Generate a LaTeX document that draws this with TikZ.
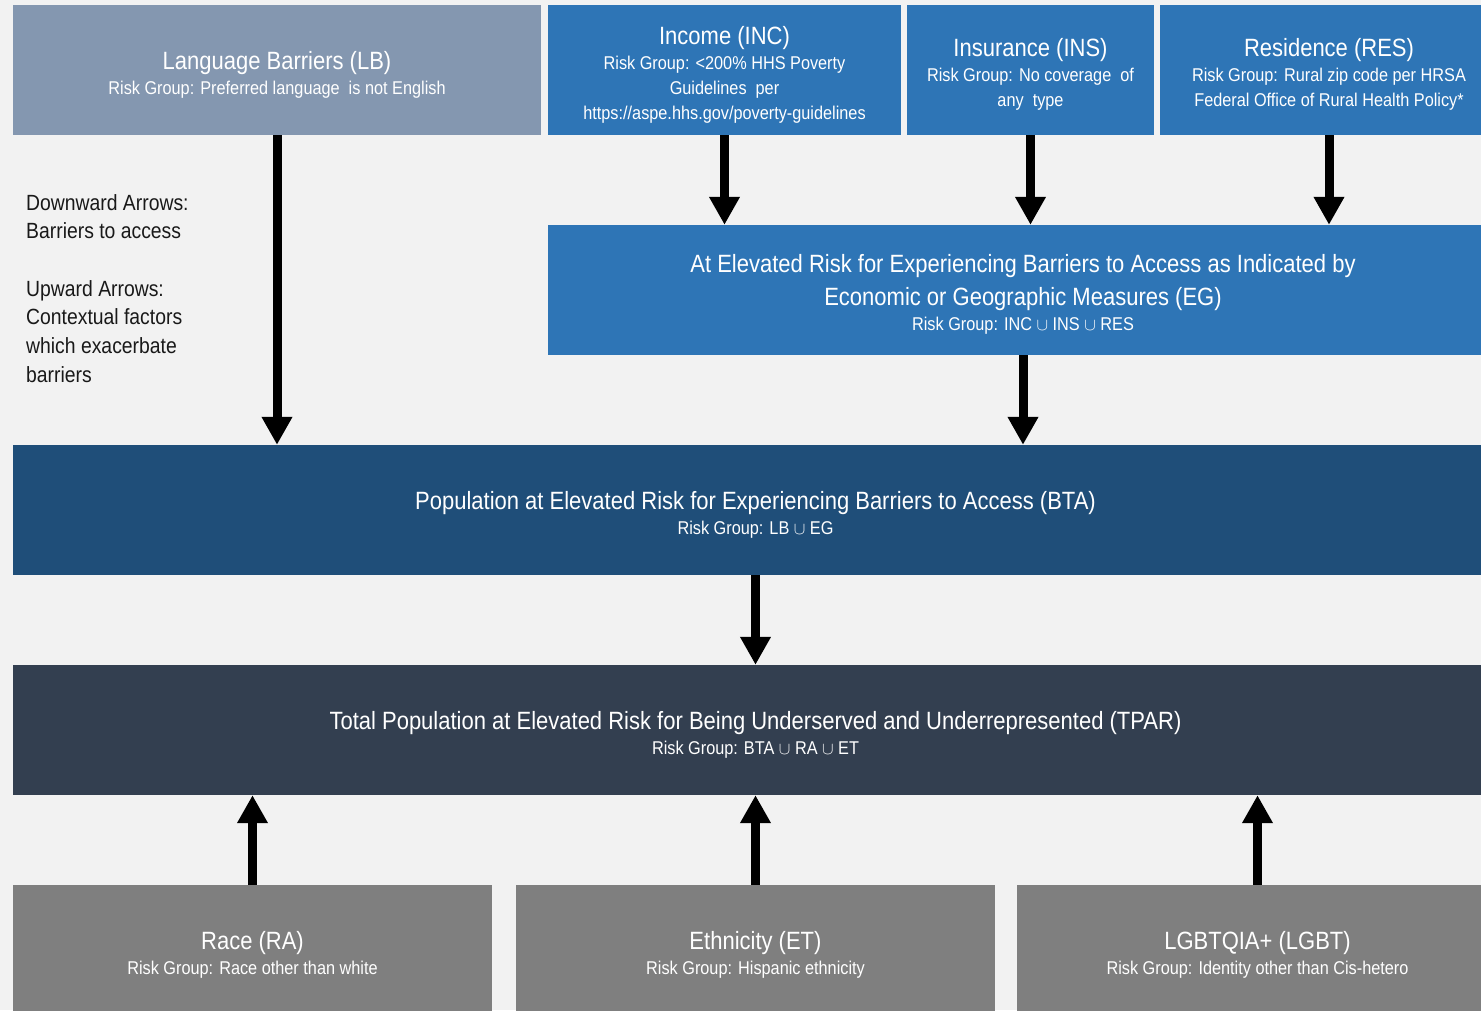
\documentclass[tikz,border=0pt]{standalone}
\usepackage{fontspec}
\setmainfont{Liberation Sans}[FakeStretch=0.88]
\usetikzlibrary{arrows.meta}
\definecolor{bgpage}{HTML}{F2F2F2}
\definecolor{lbfill}{HTML}{8497B0}
\definecolor{egfill}{HTML}{2E75B6}
\definecolor{btafill}{HTML}{1F4E79}
\definecolor{tparfill}{HTML}{333F50}
\definecolor{ctxfill}{HTML}{7F7F7F}
\newcommand{\ttlfont}{\fontsize{25}{27}\selectfont\rule{0pt}{27pt}}
\newcommand{\subfont}{\fontsize{18.5}{25}\selectfont}

\begin{document}
\begin{tikzpicture}[x=1pt, y=-1pt, >={Triangle[width=29pt,length=28pt]},
  box/.style={inner sep=0pt, align=center, text=white, font=\subfont},
  barrow/.style={->, line width=9pt}]
\clip (0,0) rectangle (1481,1010);
\fill[bgpage] (0,0) rectangle (1481,1010);
% top row
\node[box, fill=lbfill, minimum width=528pt, minimum height=130pt] (LB) at (277,70) {{\ttlfont Language Barriers (LB)}\\Risk Group: Preferred language\ \ is not English};
\node[box, fill=egfill, minimum width=353pt, minimum height=130pt] (INC) at (724.5,70) {{\ttlfont Income (INC)}\\Risk Group: <200\% HHS Poverty\\Guidelines\ \ per\\https://aspe.hhs.gov/poverty-guidelines};
\node[box, fill=egfill, minimum width=247pt, minimum height=130pt] (INS) at (1030.5,70) {{\ttlfont Insurance (INS)}\\Risk Group: No coverage\ \ of\\any\ \ type};
\node[box, fill=egfill, minimum width=338pt, minimum height=130pt] (RES) at (1329,70) {{\ttlfont Residence (RES)}\\Risk Group: Rural zip code per HRSA\\Federal Office of Rural Health Policy*};
% middle rows
\node[box, fill=egfill, minimum width=950pt, minimum height=130pt] (EG) at (1023,290) {{\ttlfont At Elevated Risk for Experiencing Barriers to Access as Indicated by}\\[8pt]{\fontsize{25}{27}\selectfont Economic or Geographic Measures (EG)}\\Risk Group: INC $\cup$ INS $\cup$ RES};
\node[box, fill=btafill, minimum width=1485pt, minimum height=130pt] (BTA) at (755.5,510) {{\ttlfont Population at Elevated Risk for Experiencing Barriers to Access (BTA)}\\Risk Group: LB $\cup$ EG};
\node[box, fill=tparfill, minimum width=1485pt, minimum height=130pt] (TPAR) at (755.5,730) {{\ttlfont Total Population at Elevated Risk for Being Underserved and Underrepresented (TPAR)}\\Risk Group: BTA $\cup$ RA $\cup$ ET};
% bottom row
\node[box, fill=ctxfill, minimum width=479pt, minimum height=130pt] (RA) at (252.5,950) {{\ttlfont Race (RA)}\\Risk Group: Race other than white};
\node[box, fill=ctxfill, minimum width=479pt, minimum height=130pt] (ET) at (755.5,950) {{\ttlfont Ethnicity (ET)}\\Risk Group: Hispanic ethnicity};
\node[box, fill=ctxfill, minimum width=481pt, minimum height=130pt] (LGBT) at (1257.5,950) {{\ttlfont LGBTQIA+ (LGBT)}\\Risk Group: Identity other than Cis-hetero};
% legend
\node[anchor=north west, align=left, inner sep=0pt, text=black!90, font=\fontsize{22}{28.7}\selectfont] (key) at (26,194) {Downward Arrows:\\Barriers to access\\[28.7pt]Upward Arrows:\\Contextual factors\\which exacerbate\\barriers};
% arrows
\draw[barrow] (LB.south) -- (LB.south |- BTA.north);
\draw[barrow] (INC.south) -- (INC.south |- EG.north);
\draw[barrow] (INS.south) -- (INS.south |- EG.north);
\draw[barrow] (RES.south) -- (RES.south |- EG.north);
\draw[barrow] (EG.south) -- (EG.south |- BTA.north);
\draw[barrow] (BTA.south) -- (TPAR.north);
\draw[barrow] (RA.north) -- (RA.north |- TPAR.south);
\draw[barrow] (ET.north) -- (ET.north |- TPAR.south);
\draw[barrow] (LGBT.north) -- (LGBT.north |- TPAR.south);
\end{tikzpicture}
\end{document}
